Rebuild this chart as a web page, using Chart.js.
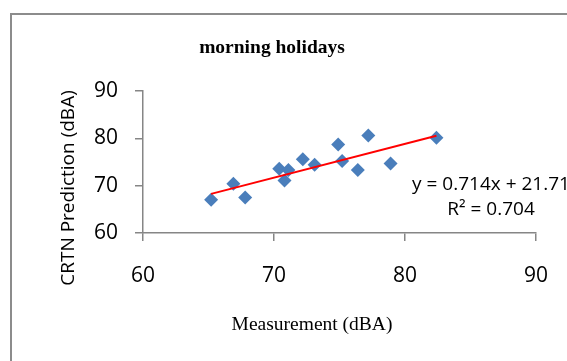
<!DOCTYPE html>
<html>
<head>
<meta charset="utf-8">
<script src="https://cdn.jsdelivr.net/npm/chart.js@4.4.0/dist/chart.umd.min.js"></script>
<style>
  html, body { margin: 0; padding: 0; background: #fff; overflow: hidden; }
  .wrap { position: relative; width: 567px; height: 361px; }
  .frame { position: absolute; left: 10px; top: 13px; width: 600px; height: 400px;
           border-top: 2px solid #8c8c8c; border-left: 2px solid #8c8c8c; }
  canvas { position: absolute; left: 0; top: 0; }
</style>
</head>
<body>
<div class="wrap">
  <div class="frame"></div>
  <canvas id="scatter" width="567" height="361"></canvas>
</div>
<script>
// measured vs CRTN predicted levels, morning holidays
const measured  = [65.2, 66.9, 67.8, 70.4, 71.1, 70.8, 72.2, 73.1, 74.9, 75.2, 76.4, 77.2, 78.9, 82.4];
const predicted = [67.0, 70.4, 67.5, 73.6, 73.3, 71.1, 75.6, 74.4, 78.7, 75.2, 73.3, 80.6, 74.7, 80.1];
const xTicks = [60, 70, 80, 90];
const yTicks = [60, 70, 80, 90];

// linear trendline as shown in the label
const slope = 0.714;
const intercept = 21.71;
const rSquared = 0.704;

const axisGray = '#868686';
const pointBlue = '#4a7ebb';

const points = measured.map((x, i) => ({ x: x, y: predicted[i] }));
const xMin = Math.min(...measured);
const xMax = Math.max(...measured);
const trend = [xMin, xMax].map(x => ({ x: x, y: slope * x + intercept }));

// titles and trendline equation
const chartText = {
  id: 'chartText',
  afterDraw(chart) {
    const ctx = chart.ctx;
    ctx.save();
    ctx.fillStyle = '#000';
    ctx.textAlign = 'center';
    ctx.textBaseline = 'alphabetic';

    ctx.font = 'bold 19.5px "Liberation Serif"';
    ctx.fillText('morning holidays', 272, 53);

    ctx.font = '19.5px "Liberation Serif"';
    ctx.fillText('Measurement (dBA)', 312, 330);

    ctx.font = '19px "Open Sans"';
    ctx.fillText('y = ' + slope + 'x + ' + intercept, 491, 190);
    ctx.fillText('R\u00b2 = ' + rSquared, 491, 215);

    ctx.translate(74, 188);
    ctx.rotate(-Math.PI / 2);
    ctx.fillText('CRTN Prediction (dBA)', 0, 0);
    ctx.restore();
  }
};

function axis(ticksList, extra) {
  return Object.assign({
    type: 'linear',
    min: ticksList[0],
    max: ticksList[ticksList.length - 1],
    afterBuildTicks: s => { s.ticks = ticksList.map(v => ({ value: v })); },
    grid: { drawOnChartArea: false, drawTicks: true, tickLength: 8, color: axisGray, lineWidth: 1.5 },
    border: { display: true, color: axisGray, width: 1.5 },
  }, extra);
}

new Chart(document.getElementById('scatter'), {
  type: 'scatter',
  data: {
    datasets: [
      {
        data: trend,
        showLine: true,
        borderColor: '#ff0000',
        borderWidth: 2,
        pointRadius: 0,
        fill: false
      },
      {
        data: points,
        pointStyle: 'rectRot',
        pointRadius: 7,
        pointBackgroundColor: pointBlue,
        pointBorderColor: pointBlue,
        pointBorderWidth: 0
      }
    ]
  },
  plugins: [chartText],
  options: {
    responsive: false,
    animation: false,
    events: [],
    layout: { padding: { left: 0, top: 91, right: 31, bottom: 0 } },
    plugins: { legend: { display: false }, tooltip: { enabled: false } },
    scales: {
      x: axis(xTicks, {
        ticks: { color: '#000', font: { family: 'Open Sans', size: 21 }, padding: 22, maxRotation: 0 },
        afterFit: s => { s.height = 128; s.paddingLeft = 0; s.paddingRight = 0; }
      }),
      y: axis(yTicks, {
        ticks: { color: '#000', font: { family: 'Open Sans', size: 21 }, padding: 17 },
        afterFit: s => { s.width = 143; s.paddingTop = 0; s.paddingBottom = 0; }
      })
    }
  }
});
</script>
</body>
</html>
